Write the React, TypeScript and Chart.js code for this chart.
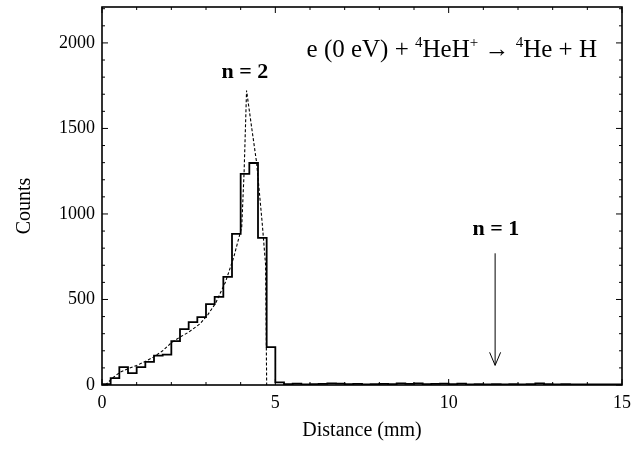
import React, { useEffect, useRef } from 'react';
import { Chart, registerables } from 'chart.js';

Chart.register(...registerables);

// Histogram: left edge of each 0.25 mm bin and its count
const binStarts: number[] = [
  0, 0.25, 0.5, 0.75, 1, 1.25, 1.5, 1.75, 2, 2.25, 2.5, 2.75, 3, 3.25, 3.5, 3.75,
  4, 4.25, 4.5, 4.75, 5, 5.25, 5.5, 5.75, 6, 6.25, 6.5, 6.75, 7, 7.25, 7.5, 7.75,
  8, 8.25, 8.5, 8.75, 9, 9.25, 9.5, 9.75, 10, 10.25, 10.5, 10.75, 11, 11.25, 11.5, 11.75,
  12, 12.25, 12.5, 12.75, 13, 13.25, 13.5, 13.75, 14, 14.25, 14.5, 14.75,
];
const binCounts: number[] = [
  5, 40, 105, 70, 105, 135, 172, 178, 257, 327, 368, 397, 473, 515, 632, 883,
  1234, 1298, 860, 222, 15, 5, 8, 4, 5, 6, 10, 8, 5, 6, 4, 5,
  6, 5, 10, 6, 10, 5, 6, 8, 5, 8, 4, 5, 4, 5, 3, 5,
  4, 5, 10, 5, 4, 5, 3, 4, 3, 4, 3, 4,
];
const histEnd = 15;

// Dashed fitted curve
const fitX: number[] = [0.1, 0.3, 0.52, 0.75, 1.0, 1.25, 1.48, 1.75, 2.0, 2.25, 2.5, 2.83, 3.05, 3.27, 3.56, 3.8, 4.03, 4.1, 4.17, 4.3, 4.46, 4.62, 4.72, 4.75];
const fitY: number[] = [0, 40, 75, 95, 114, 138, 163, 200, 247, 280, 309, 358, 410, 476, 601, 747, 923, 1250, 1722, 1530, 1300, 950, 700, 0];

// Axis ticks
const xMajorTicks: number[] = [0, 5, 10, 15];
const xMinorTicks: number[] = [1, 2, 3, 4, 6, 7, 8, 9, 11, 12, 13, 14];
const yMajorTicks: number[] = [0, 500, 1000, 1500, 2000];
const yMinorTicks: number[] = [100, 200, 300, 400, 600, 700, 800, 900, 1100, 1200, 1300, 1400, 1600, 1700, 1800, 1900, 2100, 2200];

// Annotations (data coordinates)
const formulaPos = { x: 5.9, y: 1918 };
const n2Label = { text: 'n = 2', x: 4.12, y: 1830 };
const n1Label = { text: 'n = 1', x: 11.36, y: 910 };
const arrowPos = { x: 11.34, yFrom: 770, yTo: 115 };
const yTitle = 'Counts';
const xTitle = 'Distance (mm)';

const SERIF = '"Liberation Serif", "DejaVu Serif", serif';

const decorPlugin = {
  id: 'decor',
  afterDatasetsDraw(chart: any) {
    const { ctx, chartArea: a, scales } = chart;
    const x = scales.x;
    const y = scales.y;
    ctx.save();
    ctx.strokeStyle = '#000';
    ctx.fillStyle = '#000';
    // frame
    ctx.lineWidth = 1.6;
    ctx.strokeRect(a.left, a.top, a.right - a.left, a.bottom - a.top);
    // ticks (inward, all four sides)
    ctx.lineWidth = 1;
    const seg = (x1: number, y1: number, x2: number, y2: number) => {
      ctx.beginPath();
      ctx.moveTo(x1, y1);
      ctx.lineTo(x2, y2);
      ctx.stroke();
    };
    const xt = (v: number, len: number) => {
      const px = x.getPixelForValue(v);
      seg(px, a.bottom, px, a.bottom - len);
      seg(px, a.top, px, a.top + len);
    };
    const yt = (v: number, len: number) => {
      const py = y.getPixelForValue(v);
      seg(a.left, py, a.left + len, py);
      seg(a.right, py, a.right - len, py);
    };
    xMajorTicks.forEach((v) => xt(v, 6));
    xMinorTicks.forEach((v) => xt(v, 3));
    yMajorTicks.forEach((v) => yt(v, 6));
    yMinorTicks.forEach((v) => yt(v, 3));

    // arrow
    const ax = x.getPixelForValue(arrowPos.x);
    const ay1 = y.getPixelForValue(arrowPos.yFrom);
    const ay2 = y.getPixelForValue(arrowPos.yTo);
    ctx.lineWidth = 1;
    seg(ax, ay1, ax, ay2);
    ctx.beginPath();
    ctx.moveTo(ax - 5.5, ay2 - 13);
    ctx.lineTo(ax, ay2);
    ctx.lineTo(ax + 5.5, ay2 - 13);
    ctx.stroke();

    // n labels
    ctx.font = `bold 22px ${SERIF}`;
    ctx.textAlign = 'center';
    ctx.textBaseline = 'middle';
    [n2Label, n1Label].forEach((l) => {
      ctx.fillText(l.text, x.getPixelForValue(l.x), y.getPixelForValue(l.y));
    });

    // y axis title (rotated), slightly below the plot's middle as in the original
    ctx.save();
    ctx.font = `20px ${SERIF}`;
    ctx.translate(a.left - 77, (a.top + a.bottom) / 2 + 10);
    ctx.rotate(-Math.PI / 2);
    ctx.fillText(yTitle, 0, 0);
    ctx.restore();

    // reaction formula with superscripts
    const parts: [string, boolean][] = [
      ['e (0 eV) + ', false],
      ['4', true],
      ['HeH', false],
      ['+', true],
      [' \u2192 ', false],
      ['4', true],
      ['He + H', false],
    ];
    let cx = x.getPixelForValue(formulaPos.x);
    const by = y.getPixelForValue(formulaPos.y);
    ctx.textAlign = 'left';
    ctx.textBaseline = 'alphabetic';
    parts.forEach(([t, sup]) => {
      ctx.font = sup ? `15px ${SERIF}` : `25px ${SERIF}`;
      ctx.fillText(t, cx, sup ? by - 10 : by);
      cx += ctx.measureText(t).width;
    });
    ctx.restore();
  },
};

export default function App() {
  const ref = useRef<HTMLCanvasElement | null>(null);
  useEffect(() => {
    if (!ref.current) return;
    const histPoints = binStarts.map((b, i) => ({ x: b, y: binCounts[i] }));
    histPoints.push({ x: histEnd, y: binCounts[binCounts.length - 1] });
    const fitPoints = fitX.map((v, i) => ({ x: v, y: fitY[i] }));
    const tickFont = { family: SERIF, size: 18 };
    const chart = new Chart(ref.current, {
      type: 'line',
      data: {
        datasets: [
          {
            label: 'Counts',
            data: histPoints,
            stepped: 'before',
            borderColor: '#000',
            borderWidth: 1.8,
            pointRadius: 0,
            fill: false,
          },
          {
            label: 'Fit',
            data: fitPoints,
            borderColor: '#000',
            borderWidth: 1.1,
            borderDash: [3, 2],
            pointRadius: 0,
            tension: 0,
            fill: false,
          },
        ],
      },
      options: {
        animation: false,
        responsive: false,
        events: [],
        layout: { padding: { left: 0, right: 19, top: 7, bottom: 0 } },
        plugins: { legend: { display: false }, tooltip: { enabled: false } },
        scales: {
          x: {
            type: 'linear',
            min: 0,
            max: 15,
            grid: { display: false, drawTicks: false },
            border: { display: false },
            ticks: {
              padding: 7,
              font: tickFont,
              color: '#000',
              maxRotation: 0,
              callback: (v: any) => String(v),
            },
            title: {
              display: true,
              text: xTitle,
              color: '#000',
              font: { family: SERIF, size: 20 },
              padding: { top: 0, bottom: 24 },
            },
            afterBuildTicks: (s: any) => {
              s.ticks = xMajorTicks.map((v) => ({ value: v }));
            },
            afterFit: (s: any) => {
              s.height = 82;
              s.paddingLeft = 0;
              s.paddingRight = 0;
            },
          },
          y: {
            type: 'linear',
            min: 0,
            max: 2210,
            grid: { display: false, drawTicks: false },
            border: { display: false },
            ticks: { padding: 7, font: tickFont, color: '#000', callback: (v: any) => String(v) },
            title: { display: false, text: yTitle },
            afterBuildTicks: (s: any) => {
              s.ticks = yMajorTicks.map((v) => ({ value: v }));
            },
            afterFit: (s: any) => {
              s.width = 102;
              s.paddingTop = 0;
              s.paddingBottom = 0;
            },
          },
        },
      },
      plugins: [decorPlugin],
    });
    return () => chart.destroy();
  }, []);
  return (
    <div style={{ position: 'fixed', left: 0, top: 0, width: 641, height: 467, background: '#fff' }}>
      <canvas ref={ref} width={641} height={467} />
    </div>
  );
}
